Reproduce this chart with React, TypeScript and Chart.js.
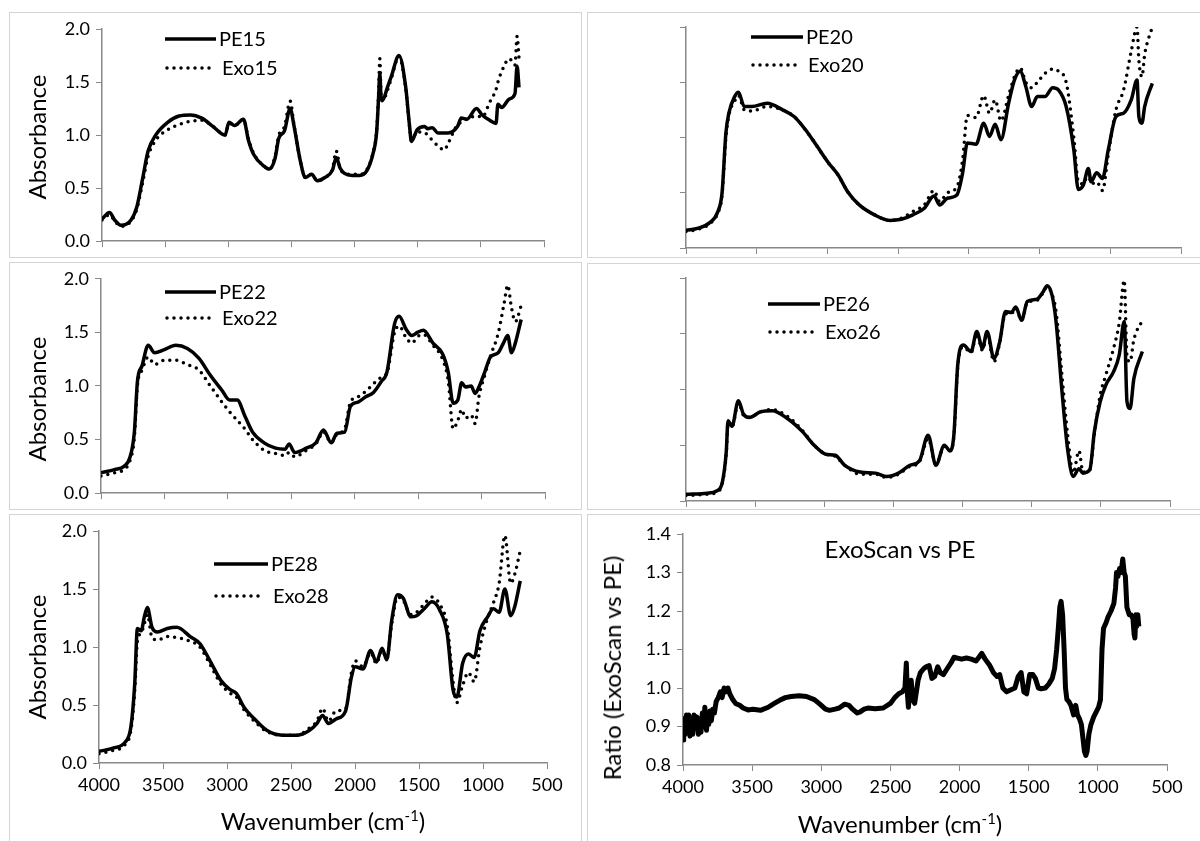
import React, { useEffect, useRef } from 'react';
import { Chart, registerables } from 'chart.js';

Chart.register(...registerables);

// ---------- tick labels ----------
const xTickValues = [4000, 3500, 3000, 2500, 2000, 1500, 1000, 500];
const absTickValues = [0, 0.5, 1.0, 1.5, 2.0];
const ratioTickValues = [0.8, 0.9, 1.0, 1.1, 1.2, 1.3, 1.4];

// ---------- PE15 / Exo15 ----------
const wn15 = [4000, 3940, 3900, 3850, 3770, 3725, 3680, 3635, 3575, 3480, 3390, 3300, 3210, 3120, 3025, 2995, 2950, 2880, 2840, 2800, 2720, 2675, 2630, 2600, 2555, 2510, 2480, 2430, 2390, 2340, 2295, 2235, 2175, 2145, 2115, 2080, 2020, 1960, 1900, 1855, 1825, 1810, 1800, 1790, 1778, 1740, 1710, 1648, 1596, 1565, 1550, 1505, 1445, 1420, 1385, 1340, 1290, 1260, 1185, 1155, 1110, 1035, 990, 930, 880, 865, 835, 775, 730, 713, 698];
const pe15 = [0.21, 0.27, 0.2, 0.15, 0.2, 0.32, 0.58, 0.85, 1.0, 1.12, 1.18, 1.19, 1.16, 1.08, 1.0, 1.12, 1.09, 1.15, 0.95, 0.82, 0.71, 0.68, 0.78, 0.97, 1.04, 1.25, 1.09, 0.76, 0.6, 0.63, 0.57, 0.6, 0.67, 0.79, 0.69, 0.64, 0.62, 0.62, 0.67, 0.82, 1.03, 1.35, 1.58, 1.35, 1.33, 1.45, 1.55, 1.75, 1.46, 1.09, 0.94, 1.05, 1.08, 1.06, 1.07, 1.02, 1.02, 1.02, 1.08, 1.16, 1.15, 1.25, 1.19, 1.14, 1.11, 1.29, 1.26, 1.34, 1.39, 1.65, 1.45];
const exo15 = [0.2, 0.25, 0.19, 0.14, 0.19, 0.3, 0.54, 0.8, 0.95, 1.05, 1.1, 1.13, 1.14, 1.08, 1.0, 1.11, 1.09, 1.15, 0.96, 0.83, 0.71, 0.68, 0.8, 1.0, 1.08, 1.32, 1.1, 0.76, 0.6, 0.63, 0.57, 0.6, 0.68, 0.85, 0.69, 0.64, 0.63, 0.63, 0.68, 0.83, 1.05, 1.4, 1.72, 1.38, 1.32, 1.42, 1.53, 1.74, 1.45, 1.08, 0.95, 1.03, 1.02, 1.0, 0.95, 0.9, 0.86, 0.92, 1.1, 1.12, 1.15, 1.18, 1.17, 1.31, 1.43, 1.5, 1.6, 1.72, 1.66, 1.93, 1.73];

// ---------- PE20 / Exo20 ----------
const wn20 = [4000, 3913, 3832, 3778, 3745, 3718, 3697, 3656, 3629, 3588, 3534, 3426, 3317, 3236, 3155, 3073, 2992, 2924, 2857, 2775, 2667, 2559, 2477, 2396, 2315, 2247, 2206, 2152, 2085, 2044, 2011, 1949, 1895, 1854, 1814, 1773, 1719, 1678, 1637, 1597, 1556, 1516, 1462, 1407, 1367, 1312, 1258, 1226, 1190, 1155, 1136, 1096, 1055, 1014, 960, 906, 852, 811, 798, 776, 757, 703];
const pe20 = [0.16, 0.18, 0.23, 0.32, 0.5, 1.04, 1.22, 1.37, 1.41, 1.28, 1.28, 1.31, 1.25, 1.19, 1.07, 0.92, 0.77, 0.66, 0.51, 0.39, 0.3, 0.25, 0.26, 0.3, 0.36, 0.47, 0.39, 0.45, 0.48, 0.68, 0.95, 0.94, 1.13, 1.01, 1.12, 0.98, 1.31, 1.52, 1.6, 1.46, 1.28, 1.37, 1.37, 1.45, 1.43, 1.28, 0.89, 0.53, 0.57, 0.72, 0.6, 0.68, 0.63, 0.89, 1.19, 1.22, 1.34, 1.52, 1.19, 1.13, 1.28, 1.49];
const exo20 = [0.15, 0.17, 0.22, 0.31, 0.48, 1.0, 1.2, 1.33, 1.38, 1.25, 1.24, 1.28, 1.25, 1.19, 1.07, 0.92, 0.77, 0.66, 0.51, 0.39, 0.3, 0.25, 0.27, 0.33, 0.39, 0.52, 0.42, 0.5, 0.55, 0.8, 1.2, 1.18, 1.38, 1.22, 1.34, 1.15, 1.38, 1.55, 1.63, 1.5, 1.45, 1.5, 1.58, 1.62, 1.6, 1.5, 1.0, 0.6, 0.58, 0.68, 0.58, 0.6, 0.52, 0.85, 1.25, 1.43, 1.78, 2.0, 1.7, 1.55, 1.75, 2.0];

// ---------- PE22 / Exo22 ----------
const wn22 = [4000, 3894, 3819, 3773, 3737, 3713, 3676, 3628, 3577, 3501, 3410, 3319, 3229, 3138, 3047, 2987, 2926, 2866, 2805, 2714, 2624, 2548, 2518, 2473, 2382, 2306, 2246, 2185, 2140, 2079, 2034, 1973, 1913, 1852, 1792, 1746, 1686, 1650, 1595, 1550, 1505, 1459, 1383, 1308, 1263, 1224, 1187, 1157, 1127, 1082, 1051, 1021, 975, 930, 869, 824, 794, 764, 734, 688];
const pe22 = [0.19, 0.22, 0.25, 0.33, 0.57, 1.04, 1.19, 1.38, 1.31, 1.34, 1.38, 1.35, 1.26, 1.1, 0.96, 0.87, 0.87, 0.72, 0.57, 0.47, 0.42, 0.41, 0.46, 0.38, 0.42, 0.47, 0.59, 0.47, 0.56, 0.57, 0.81, 0.85, 0.9, 0.94, 1.04, 1.13, 1.58, 1.65, 1.53, 1.47, 1.5, 1.52, 1.4, 1.3, 1.13, 0.84, 0.87, 1.03, 0.99, 1.0, 0.93, 0.99, 1.13, 1.27, 1.31, 1.41, 1.47, 1.31, 1.4, 1.62];
const exo22 = [0.16, 0.19, 0.22, 0.3, 0.52, 1.0, 1.15, 1.27, 1.2, 1.24, 1.24, 1.2, 1.15, 1.0, 0.85, 0.76, 0.68, 0.6, 0.5, 0.4, 0.37, 0.35, 0.38, 0.34, 0.4, 0.46, 0.57, 0.47, 0.55, 0.6, 0.85, 0.9, 0.95, 1.02, 1.08, 1.12, 1.5, 1.56, 1.45, 1.4, 1.46, 1.48, 1.38, 1.25, 1.05, 0.6, 0.68, 0.78, 0.7, 0.73, 0.65, 0.9, 1.1, 1.28, 1.49, 1.76, 1.94, 1.73, 1.6, 1.75];

// ---------- PE26 / Exo26 ----------
const wn26 = [4000, 3848, 3779, 3737, 3709, 3696, 3668, 3621, 3585, 3543, 3460, 3377, 3267, 3156, 3073, 2990, 2921, 2852, 2741, 2630, 2547, 2464, 2381, 2312, 2249, 2193, 2132, 2091, 2063, 2035, 1994, 1939, 1897, 1856, 1823, 1773, 1731, 1690, 1648, 1615, 1573, 1532, 1463, 1421, 1388, 1352, 1324, 1283, 1241, 1200, 1158, 1130, 1080, 1047, 1005, 964, 908, 867, 831, 811, 789, 761, 700];
const pe26 = [0.06, 0.07, 0.09, 0.17, 0.44, 0.72, 0.67, 0.9, 0.78, 0.75, 0.8, 0.81, 0.74, 0.62, 0.5, 0.42, 0.41, 0.32, 0.26, 0.25, 0.22, 0.25, 0.32, 0.36, 0.59, 0.32, 0.5, 0.45, 0.59, 1.22, 1.4, 1.34, 1.52, 1.37, 1.52, 1.28, 1.43, 1.7, 1.69, 1.74, 1.62, 1.79, 1.81, 1.87, 1.93, 1.84, 1.61, 1.01, 0.47, 0.22, 0.29, 0.25, 0.28, 0.62, 0.89, 1.04, 1.16, 1.31, 1.61, 0.89, 0.83, 1.1, 1.34];
const exo26 = [0.05, 0.06, 0.08, 0.16, 0.42, 0.7, 0.66, 0.88, 0.77, 0.75, 0.8, 0.82, 0.76, 0.63, 0.5, 0.42, 0.4, 0.32, 0.24, 0.24, 0.21, 0.24, 0.31, 0.35, 0.56, 0.33, 0.49, 0.45, 0.58, 1.2, 1.38, 1.33, 1.5, 1.35, 1.5, 1.25, 1.42, 1.68, 1.68, 1.73, 1.62, 1.78, 1.8, 1.86, 1.92, 1.85, 1.7, 1.15, 0.6, 0.25, 0.45, 0.26, 0.28, 0.6, 0.95, 1.13, 1.37, 1.6, 1.98, 1.3, 1.25, 1.45, 1.62];

// ---------- PE28 / Exo28 ----------
const wn28 = [4000, 3886, 3796, 3751, 3721, 3700, 3670, 3646, 3622, 3586, 3542, 3467, 3392, 3287, 3212, 3137, 3047, 2972, 2927, 2867, 2777, 2687, 2568, 2448, 2358, 2298, 2253, 2208, 2148, 2073, 2028, 1998, 1938, 1878, 1833, 1788, 1752, 1713, 1668, 1623, 1564, 1519, 1459, 1399, 1339, 1279, 1234, 1204, 1159, 1114, 1069, 1024, 964, 919, 874, 829, 784, 754, 709];
const pe28 = [0.1, 0.13, 0.18, 0.31, 0.68, 1.16, 1.14, 1.26, 1.34, 1.17, 1.13, 1.16, 1.17, 1.09, 1.03, 0.89, 0.71, 0.63, 0.6, 0.48, 0.37, 0.28, 0.24, 0.24, 0.28, 0.34, 0.41, 0.34, 0.38, 0.45, 0.74, 0.83, 0.81, 0.97, 0.87, 0.99, 0.89, 1.23, 1.45, 1.42, 1.26, 1.27, 1.33, 1.39, 1.32, 1.11, 0.63, 0.57, 0.86, 0.94, 0.91, 1.14, 1.26, 1.33, 1.3, 1.5, 1.27, 1.34, 1.57];
const exo28 = [0.08, 0.11, 0.16, 0.28, 0.62, 1.05, 1.12, 1.2, 1.28, 1.08, 1.06, 1.09, 1.08, 1.05, 1.0, 0.86, 0.68, 0.6, 0.57, 0.46, 0.35, 0.27, 0.24, 0.24, 0.3, 0.36, 0.47, 0.36, 0.45, 0.47, 0.78, 0.88, 0.83, 0.95, 0.86, 0.97, 0.9, 1.2, 1.43, 1.4, 1.28, 1.3, 1.37, 1.43, 1.37, 1.18, 0.7, 0.52, 0.67, 0.78, 0.7, 1.0, 1.25, 1.38, 1.55, 1.96, 1.55, 1.62, 1.83];

// ---------- Ratio ExoScan vs PE ----------
const wnRatio = [
  4000, 3995, 3985, 3975, 3967, 3958, 3950, 3940, 3930, 3920,
  3911, 3900, 3889, 3880, 3870, 3860, 3850, 3842, 3830, 3822,
  3814, 3805, 3795, 3785, 3773, 3760, 3745, 3730, 3717, 3703,
  3690, 3675, 3662, 3640, 3620, 3590, 3565, 3530, 3495, 3440,
  3384, 3340, 3301, 3260, 3218, 3160, 3107, 3050, 3010, 2970,
  2941, 2900, 2871, 2830, 2800, 2774, 2740, 2719, 2690, 2663,
  2610, 2552, 2500, 2469, 2440, 2414, 2395, 2385, 2378, 2370,
  2360, 2350, 2340, 2325, 2300, 2283, 2260, 2242, 2220, 2200,
  2180, 2158, 2140, 2117, 2090, 2062, 2040, 2020, 1985, 1950,
  1915, 1881, 1860, 1840, 1815, 1784, 1755, 1729, 1710, 1687,
  1660, 1632, 1600, 1576, 1555, 1535, 1515, 1493, 1470, 1452,
  1430, 1410, 1380, 1355, 1330, 1313, 1298, 1285, 1275, 1266,
  1255, 1244, 1234, 1224, 1210, 1195, 1175, 1160, 1147, 1133,
  1119, 1108, 1097, 1087, 1078, 1065, 1050, 1030, 1009, 995,
  981, 970, 959, 940, 926, 905, 884, 872, 865, 855,
  843, 832, 820, 810, 801, 790, 773, 760, 746, 738,
  732, 725, 718, 711, 704,
];
const ratioValues = [
  0.865, 0.92, 0.88, 0.93, 0.89, 0.93, 0.875, 0.92, 0.88, 0.93,
  0.9, 0.925, 0.88, 0.92, 0.885, 0.935, 0.9, 0.95, 0.89, 0.93,
  0.905, 0.94, 0.915, 0.945, 0.935, 0.965, 0.975, 0.99, 0.975, 1.0,
  0.99, 1.0, 0.985, 0.97, 0.96, 0.955, 0.948, 0.943, 0.945, 0.942,
  0.95, 0.96, 0.968, 0.975, 0.978, 0.98, 0.978, 0.97, 0.958, 0.945,
  0.942, 0.945, 0.948, 0.958, 0.955, 0.945, 0.935, 0.938, 0.945, 0.948,
  0.946, 0.948, 0.96, 0.975, 0.985, 0.99, 1.0, 1.065, 0.99, 0.95,
  1.0, 1.02, 0.97, 0.96, 1.02, 1.04, 1.05, 1.055, 1.058, 1.025,
  1.03, 1.055, 1.04, 1.035, 1.05, 1.065, 1.08, 1.078, 1.075, 1.078,
  1.075, 1.07, 1.08, 1.09, 1.075, 1.06, 1.04, 1.03, 1.035, 1.0,
  0.99, 0.995, 1.0, 1.03, 1.04, 0.99, 0.985, 1.035, 1.035, 1.025,
  1.0, 0.998, 1.0, 1.01, 1.025, 1.05, 1.1, 1.16, 1.21, 1.225,
  1.19, 1.1, 1.0, 0.97, 0.965, 0.955, 0.93, 0.955, 0.93, 0.92,
  0.905, 0.87, 0.835, 0.825, 0.835, 0.88, 0.905, 0.925, 0.94, 0.95,
  0.97, 1.1, 1.155, 1.17, 1.185, 1.2, 1.22, 1.26, 1.3, 1.29,
  1.31, 1.3, 1.335, 1.3, 1.29, 1.21, 1.19, 1.19, 1.18, 1.14,
  1.13, 1.19, 1.16, 1.19, 1.16,
];

// ---------- styling ----------
const FONT = "Lato, 'Open Sans', sans-serif";
const AXIS = '#888888';
const FRAME = '#d4d4d4';
const TICK_SIZE = 18;
const TITLE_SIZE = 24;
const LEGEND_SIZE = 20;

type Series = { label: string; wn: number[]; values: number[]; dotted: boolean; width: number; smooth: boolean };
type LegendItem = { x0: number; x1: number; y: number; tx: number };
type Spec = {
  frame: { x: number; y: number; w: number; h: number };
  plot: { x0: number; x1: number; y0: number; y1: number };
  yMin: number;
  yMax: number;
  yTicks: number[];
  yLabels: boolean;
  xLabels: boolean;
  series: Series[];
  legend: LegendItem[];
};

function makeLegendPlugin(items: LegendItem[], fx: number, fy: number) {
  return {
    id: 'insetLegend',
    afterDraw(chart: any) {
      const ctx = chart.ctx;
      items.forEach((it, i) => {
        const ds = chart.data.datasets[i];
        if (!ds) return;
        ctx.save();
        ctx.strokeStyle = '#000';
        ctx.lineWidth = ds.borderWidth;
        ctx.lineCap = ds.borderCapStyle;
        ctx.setLineDash(ds.borderDash || []);
        ctx.beginPath();
        ctx.moveTo(it.x0 - fx, it.y - fy);
        ctx.lineTo(it.x1 - fx, it.y - fy);
        ctx.stroke();
        ctx.setLineDash([]);
        ctx.fillStyle = '#000';
        ctx.font = `${LEGEND_SIZE}px ${FONT}`;
        ctx.textBaseline = 'middle';
        ctx.textAlign = 'left';
        ctx.fillText(ds.label, it.tx - fx, it.y - fy + 1);
        ctx.restore();
      });
    },
  };
}

function Panel({ spec }: { spec: Spec }) {
  const ref = useRef<HTMLCanvasElement | null>(null);
  const f = spec.frame;
  const p = spec.plot;
  useEffect(() => {
    if (!ref.current) return;
    const chart = new Chart(ref.current, {
      type: 'line',
      data: {
        datasets: spec.series.map((s) => ({
          label: s.label,
          data: s.wn.map((w, i) => ({ x: w, y: s.values[i] })),
          borderColor: '#000',
          backgroundColor: '#000',
          borderWidth: s.width,
          borderDash: s.dotted ? [0, 7] : [],
          borderCapStyle: s.dotted ? 'round' : 'butt',
          borderJoinStyle: 'round',
          pointRadius: 0,
          fill: false,
          tension: 0,
          cubicInterpolationMode: s.smooth ? 'monotone' : 'default',
        })),
      } as any,
      options: {
        responsive: false,
        animation: false,
        devicePixelRatio: 1,
        events: [],
        layout: {
          padding: { left: 0, top: p.y0 - f.y, right: f.x + f.w - p.x1, bottom: 0 },
        },
        plugins: { legend: { display: false }, tooltip: { enabled: false }, title: { display: false } },
        scales: {
          x: {
            type: 'linear',
            reverse: true,
            min: 500,
            max: 4000,
            afterBuildTicks: (s: any) => {
              s.ticks = xTickValues.map((v) => ({ value: v }));
            },
            afterFit: (s: any) => {
              s.height = f.y + f.h - p.y1;
            },
            ticks: {
              display: spec.xLabels,
              autoSkip: false,
              maxRotation: 0,
              padding: 5,
              color: '#000',
              font: { family: FONT, size: TICK_SIZE },
              callback: (v: any) => String(v),
            },
            grid: { drawOnChartArea: false, drawTicks: true, tickLength: 6, color: AXIS, lineWidth: 1 },
            border: { display: true, color: AXIS, width: 1.5 },
          },
          y: {
            type: 'linear',
            min: spec.yMin,
            max: spec.yMax,
            afterBuildTicks: (s: any) => {
              s.ticks = spec.yTicks.map((v) => ({ value: v }));
            },
            afterFit: (s: any) => {
              s.width = p.x0 - f.x;
            },
            ticks: {
              display: spec.yLabels,
              padding: 6,
              color: '#000',
              font: { family: FONT, size: TICK_SIZE },
              callback: (v: any) => Number(v).toFixed(1),
            },
            grid: { drawOnChartArea: false, drawTicks: true, tickLength: 6, color: AXIS, lineWidth: 1 },
            border: { display: true, color: AXIS, width: 1.5 },
          },
        },
      } as any,
      plugins: [makeLegendPlugin(spec.legend, f.x, f.y)],
    });
    return () => chart.destroy();
  }, []);
  return (
    <>
      <div
        style={{
          position: 'absolute',
          left: f.x,
          top: f.y,
          width: f.w,
          height: f.h,
          border: `1px solid ${FRAME}`,
          boxSizing: 'border-box',
        }}
      />
      <canvas
        ref={ref}
        width={f.w}
        height={f.h}
        style={{ position: 'absolute', left: f.x, top: f.y, width: f.w, height: f.h }}
      />
    </>
  );
}

const pair = (n: string, wn: number[], pe: number[], exo: number[]): Series[] => [
  { label: 'PE' + n, wn, values: pe, dotted: false, width: 3.5, smooth: true },
  { label: 'Exo' + n, wn, values: exo, dotted: true, width: 3.5, smooth: true },
];

const specs: Spec[] = [
  {
    frame: { x: 9, y: 12, w: 573, h: 246 },
    plot: { x0: 102, x1: 544, y0: 29, y1: 245 },
    yMin: 0, yMax: 2, yTicks: absTickValues, yLabels: true, xLabels: false,
    series: pair('15', wn15, pe15, exo15),
    legend: [
      { x0: 165, x1: 216, y: 39, tx: 219 },
      { x0: 167, x1: 212, y: 68, tx: 222 },
    ],
  },
  {
    frame: { x: 587, y: 12, w: 620, h: 246 },
    plot: { x0: 686, x1: 1181, y0: 27, y1: 248 },
    yMin: 0, yMax: 2, yTicks: absTickValues, yLabels: false, xLabels: false,
    series: pair('20', wn20, pe20, exo20),
    legend: [
      { x0: 751, x1: 803, y: 37, tx: 806 },
      { x0: 753, x1: 798, y: 65, tx: 808 },
    ],
  },
  {
    frame: { x: 9, y: 262, w: 573, h: 248 },
    plot: { x0: 101, x1: 545, y0: 274, y1: 499 },
    yMin: 0, yMax: 2, yTicks: absTickValues, yLabels: true, xLabels: false,
    series: pair('22', wn22, pe22, exo22),
    legend: [
      { x0: 165, x1: 216, y: 292, tx: 219 },
      { x0: 167, x1: 212, y: 318, tx: 222 },
    ],
  },
  {
    frame: { x: 587, y: 263, w: 620, h: 247 },
    plot: { x0: 686, x1: 1170, y0: 278, y1: 501 },
    yMin: 0, yMax: 2, yTicks: absTickValues, yLabels: false, xLabels: false,
    series: pair('26', wn26, pe26, exo26),
    legend: [
      { x0: 768, x1: 820, y: 304, tx: 823 },
      { x0: 770, x1: 815, y: 332, tx: 825 },
    ],
  },
  {
    frame: { x: 9, y: 514, w: 573, h: 330 },
    plot: { x0: 99, x1: 547, y0: 531, y1: 763 },
    yMin: 0, yMax: 2, yTicks: absTickValues, yLabels: true, xLabels: true,
    series: pair('28', wn28, pe28, exo28),
    legend: [
      { x0: 214, x1: 268, y: 564, tx: 271 },
      { x0: 216, x1: 262, y: 596, tx: 273 },
    ],
  },
  {
    frame: { x: 587, y: 514, w: 620, h: 330 },
    plot: { x0: 683, x1: 1167, y0: 534, y1: 765 },
    yMin: 0.8, yMax: 1.4, yTicks: ratioTickValues, yLabels: true, xLabels: true,
    series: [{ label: 'ExoScan vs PE', wn: wnRatio, values: ratioValues, dotted: false, width: 5, smooth: false }],
    legend: [],
  },
];

const textBase: React.CSSProperties = {
  position: 'absolute',
  fontFamily: FONT,
  color: '#000',
  whiteSpace: 'nowrap',
  lineHeight: 1,
};

function VTitle({ x, y, children }: { x: number; y: number; children: React.ReactNode }) {
  return (
    <div style={{ ...textBase, left: x, top: y, fontSize: TITLE_SIZE, transform: 'translate(-50%, -50%) rotate(-90deg)' }}>
      {children}
    </div>
  );
}

function HTitle({ x, y, size, children }: { x: number; y: number; size: number; children: React.ReactNode }) {
  return (
    <div style={{ ...textBase, left: x, top: y, fontSize: size, transform: 'translate(-50%, -50%)' }}>
      {children}
    </div>
  );
}

const Wavenumber = () => (
  <>
    Wavenumber (cm
    <span style={{ fontSize: '0.62em', position: 'relative', top: '-0.6em' }}>-1</span>)
  </>
);

export default function App() {
  useEffect(() => {
    document.body.style.margin = '0';
    document.body.style.background = '#fff';
  }, []);
  return (
    <div
      style={{
        position: 'absolute',
        left: 0,
        top: 0,
        width: 1200,
        height: 841,
        overflow: 'hidden',
        background: '#fff',
      }}
    >
      {specs.map((s, i) => (
        <Panel key={i} spec={s} />
      ))}
      <VTitle x={37} y={137}>Absorbance</VTitle>
      <VTitle x={37} y={399}>Absorbance</VTitle>
      <VTitle x={37} y={657}>Absorbance</VTitle>
      <VTitle x={612} y={668}>Ratio (ExoScan vs PE)</VTitle>
      <HTitle x={900} y={549} size={TITLE_SIZE}>ExoScan vs PE</HTitle>
      <HTitle x={323} y={821} size={TITLE_SIZE}>
        <Wavenumber />
      </HTitle>
      <HTitle x={900} y={824} size={TITLE_SIZE}>
        <Wavenumber />
      </HTitle>
    </div>
  );
}
